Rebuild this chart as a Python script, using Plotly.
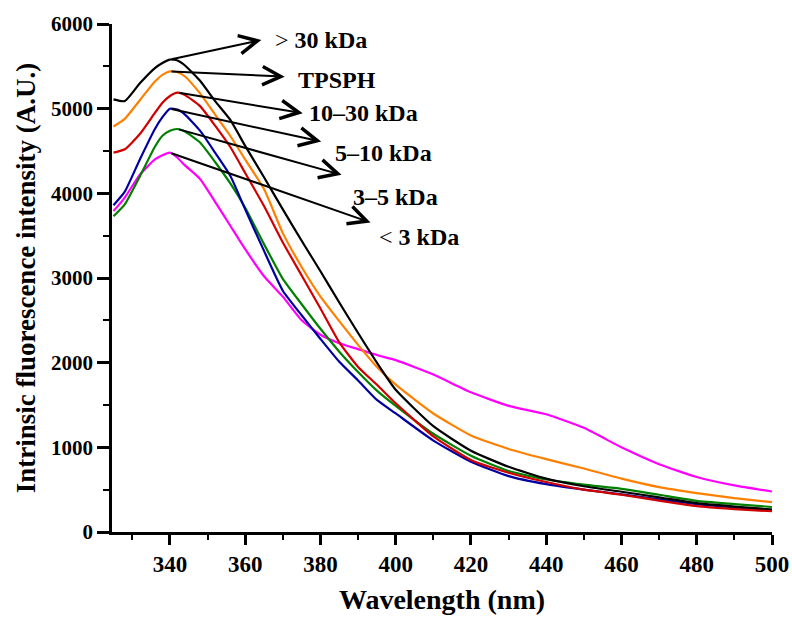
import plotly.graph_objects as go

# Excitation-emission scan: wavelength grid (nm)
wavelength = [325, 328, 332, 336, 338, 340, 342, 344, 348, 352, 356, 360, 365, 370, 375,
              380, 385, 390, 395, 400, 410, 420, 430, 440, 450, 460, 470, 480,
              490, 500]

# Intrinsic fluorescence intensity (A.U.) for each fraction
gt30 = [5110, 5090, 5300, 5480, 5540, 5580, 5570, 5510, 5330, 5090, 4870, 4560, 4190,
        3810, 3440, 3080, 2710, 2350, 2000, 1680, 1250, 960, 770, 630, 540, 475, 410,
        340, 300, 265]
tpsph = [4790, 4880, 5100, 5320, 5400, 5440, 5430, 5380, 5180, 4930, 4680, 4400, 4050,
         3530, 3130, 2780, 2490, 2210, 1950, 1740, 1400, 1140, 980, 860, 750, 630, 530,
         460, 400, 352]
f10_30 = [4480, 4520, 4700, 4950, 5070, 5150, 5190, 5160, 5030, 4800, 4550, 4240, 3850,
          3420, 3030, 2640, 2240, 1950, 1740, 1520, 1130, 850, 700, 590, 500, 440, 370,
          305, 270, 245]
f5_10 = [3860, 4020, 4400, 4760, 4900, 5000, 4990, 4930, 4740, 4480, 4210, 3810, 3320,
         2850, 2560, 2280, 2010, 1790, 1560, 1400, 1080, 830, 660, 565, 500, 445, 385,
         330, 290, 262]
f3_5 = [3730, 3870, 4200, 4550, 4680, 4740, 4760, 4730, 4600, 4370, 4120, 3830, 3400,
        2990, 2690, 2400, 2130, 1890, 1670, 1490, 1160, 900, 720, 620, 560, 510, 440,
        368, 330, 295]
lt3 = [3790, 3950, 4220, 4400, 4450, 4480, 4420, 4330, 4170, 3900, 3620, 3340, 3020,
       2780, 2500, 2330, 2230, 2160, 2090, 2030, 1860, 1650, 1490, 1390, 1230, 1000,
       800, 650, 550, 478]

series = [
    ("< 3 kDa", lt3, "#FF00FF"),
    ("TPSPH", tpsph, "#FF8000"),
    ("3–5 kDa", f3_5, "#008000"),
    ("5–10 kDa", f5_10, "#0000A0"),
    ("> 30 kDa", gt30, "#000000"),
    ("10–30 kDa", f10_30, "#D00000"),
]

# Label placement for each fraction: arrow head (nm, A.U.) and text anchor (nm, A.U.)
label_order = ["> 30 kDa", "TPSPH", "10–30 kDa", "5–10 kDa", "3–5 kDa", "< 3 kDa"]
label_text = ["&gt; <b>30 kDa</b>", "<b>TPSPH</b>", "<b>10–30 kDa</b>",
              "<b>5–10 kDa</b>", "<b>3–5 kDa</b>", "&lt; <b>3 kDa</b>"]
head_x = [364.3, 370.5, 375.3, 380.2, 385.6, 393.3]
head_y = [5812, 5378, 4947, 4611, 4219, 3656]
text_x = [367.3, 373.6, 376.4, 383.3, 388.2, 394.9]
text_y = [5812, 5340, 4950, 4478, 3962, 3490]

FONT = "Liberation Serif, Times New Roman, serif"

fig = go.Figure()
for name, vals, color in series:
    fig.add_trace(go.Scatter(
        x=wavelength, y=vals, mode="lines", name=name,
        line=dict(color=color, width=2.2, shape="spline", smoothing=0.5),
        showlegend=False,
    ))

data = {name: vals for name, vals, _ in series}
for name, txt, hx, hy, tx, ty in zip(label_order, label_text, head_x, head_y, text_x, text_y):
    vals = data[name]
    peak = max(vals)
    peak_x = wavelength[vals.index(peak)]
    fig.add_annotation(
        x=hx, y=hy, ax=peak_x, ay=peak, xref="x", yref="y", axref="x", ayref="y",
        text="", showarrow=True, arrowhead=5, arrowsize=1.8, arrowwidth=2,
        arrowcolor="black", standoff=0, startstandoff=0,
    )
    fig.add_annotation(
        x=tx, y=ty, xref="x", yref="y", text=txt, showarrow=False,
        xanchor="left", yanchor="middle",
        font=dict(family=FONT, size=24, color="black"),
    )

fig.update_layout(
    width=792, height=617,
    margin=dict(l=112, r=20, t=24, b=85),
    paper_bgcolor="white", plot_bgcolor="white",
    font=dict(family=FONT, color="black"),
)
fig.update_xaxes(
    range=[324.6, 500], tick0=340, dtick=20, automargin=False,
    showline=True, linecolor="black", linewidth=2.5, mirror=False,
    ticks="outside", ticklen=10, tickwidth=2.5, tickcolor="black",
    minor=dict(dtick=10, ticks="outside", ticklen=5, tickwidth=2, tickcolor="black"),
    showgrid=False, zeroline=False,
    tickfont=dict(family=FONT, size=23, color="black", weight="bold"),
    title=dict(text="<b>Wavelength (nm)</b>", font=dict(family=FONT, size=28),
               standoff=14),
)
fig.update_yaxes(
    range=[0, 6000], dtick=1000, automargin=False,
    showline=True, linecolor="black", linewidth=2.5,
    ticks="outside", ticklen=12, tickwidth=2.5, tickcolor="black",
    minor=dict(dtick=500, ticks="outside", ticklen=6, tickwidth=2, tickcolor="black"),
    showgrid=False, zeroline=False,
    tickfont=dict(family=FONT, size=21, color="black", weight="bold"),
    title=dict(text="<b>Intrinsic fluorescence intensity (A.U.)</b>",
               font=dict(family=FONT, size=27), standoff=8),
)

fig.write_html("out.html")
